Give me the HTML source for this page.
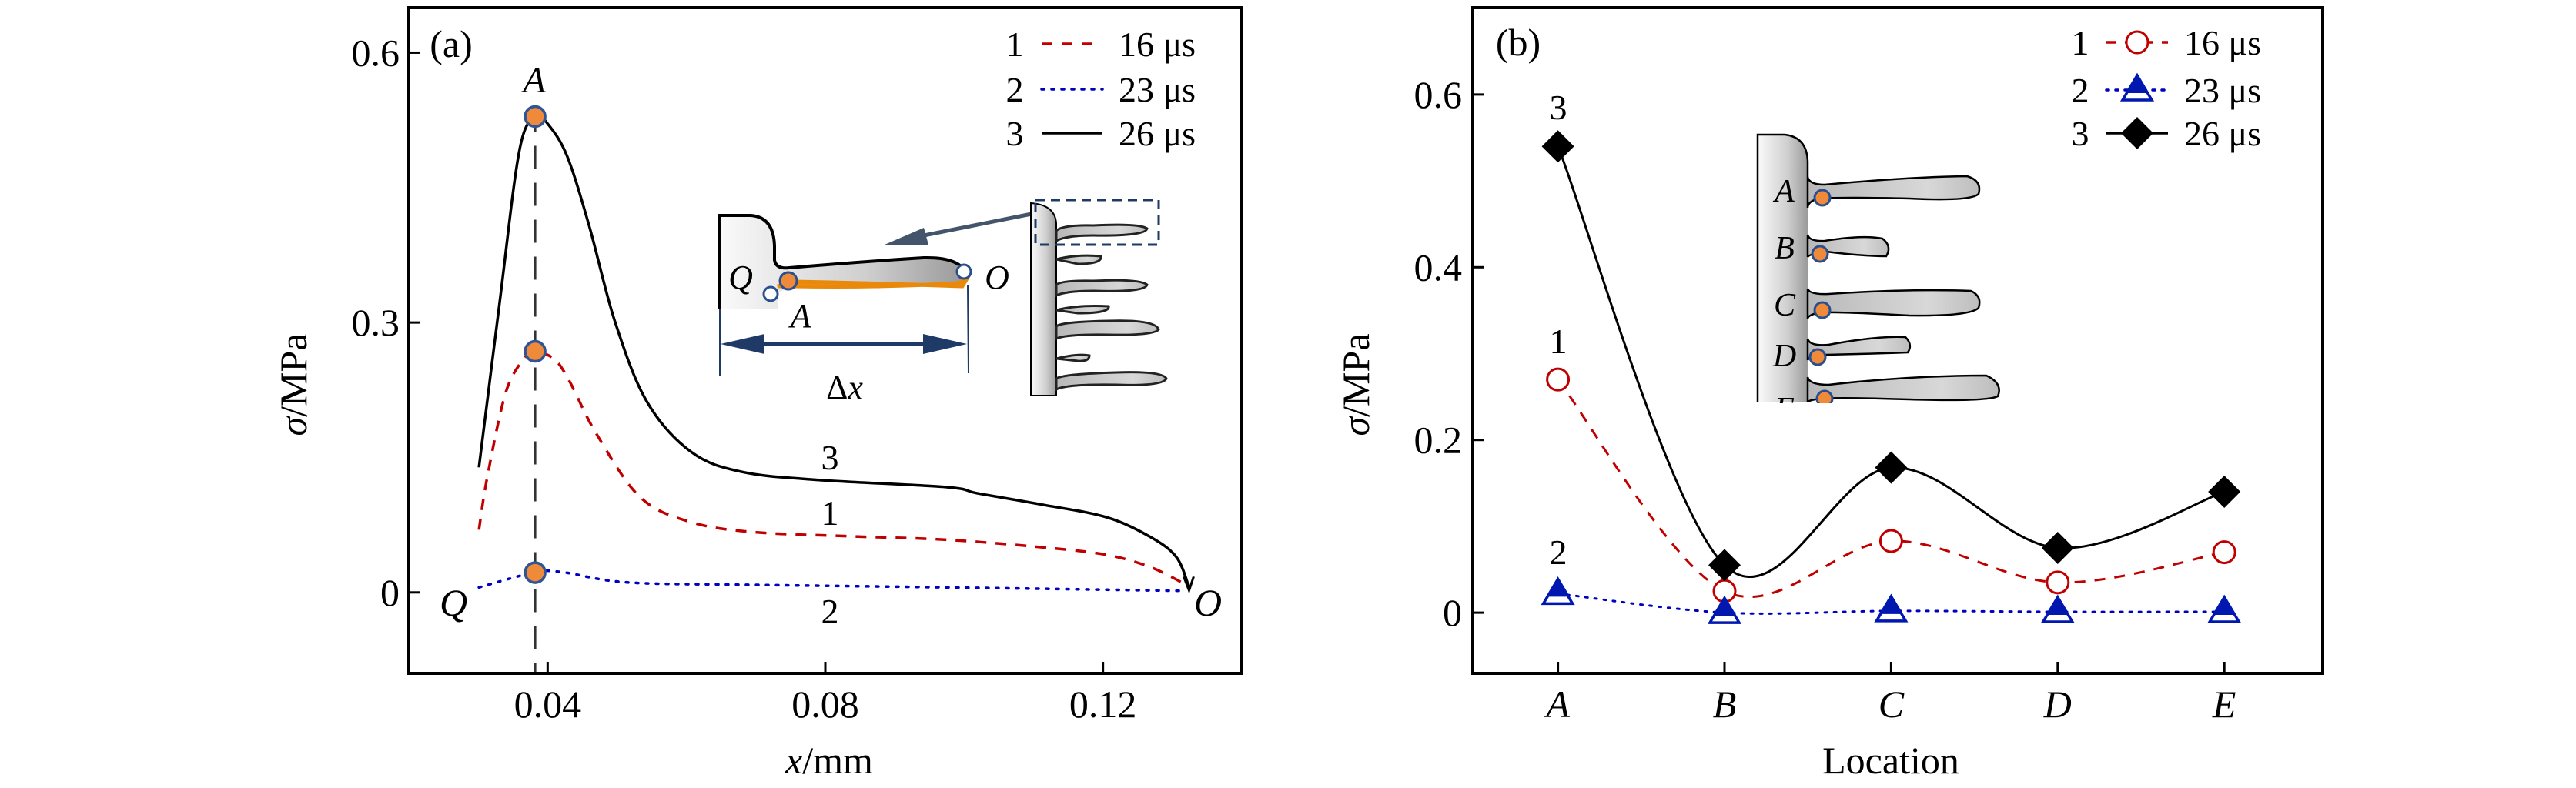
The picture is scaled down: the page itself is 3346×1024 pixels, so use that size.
<!DOCTYPE html>
<html><head><meta charset="utf-8"><style>
html,body{margin:0;padding:0;background:#fff;}
svg{display:block;font-family:"Liberation Serif",serif;}
</style></head><body>
<svg id="s" width="3346" height="1024" viewBox="0 0 3346 1024" xmlns="http://www.w3.org/2000/svg">
<defs>
<linearGradient id="gg" x1="0" x2="1" y1="0" y2="0"><stop offset="0" stop-color="#fafafa"/><stop offset="0.6" stop-color="#cfcfcf"/><stop offset="1" stop-color="#9a9a9a"/></linearGradient>
<linearGradient id="gf" x1="0" x2="1" y1="0" y2="0"><stop offset="0" stop-color="#b8b8b8"/><stop offset="0.7" stop-color="#d8d8d8"/><stop offset="1" stop-color="#bdbdbd"/></linearGradient>
</defs>
<g id="pa"></g>
<g id="pb"></g>
<g id="insetA">
  <path d="M934,401 L934,280 L975,280 Q1005,282 1006,320 L1006,338 Q1008,350 1025,348 Q1120,340 1200,335 Q1240,334 1252,350 L1250,370 Q1150,376 1040,370 L1010,380 L1010,401 Z" fill="url(#gg)" stroke="none"/>
  <path d="M934,401 L934,280 L975,280 Q1005,282 1006,320 L1006,338 Q1008,350 1025,348 Q1120,340 1200,335 Q1240,334 1252,350" fill="none" stroke="#000" stroke-width="4"/>
  <path d="M1010,372 L1030,366 Q1140,368 1250,372 L1256,362 L1245,368 Q1140,374 1030,372 Z" fill="#f0900c" stroke="#e8890c" stroke-width="5"/>
  <circle cx="1001" cy="382" r="9" fill="#fff" stroke="#2a4f8f" stroke-width="3"/>
  <circle cx="1024" cy="365" r="11" fill="#ee8a3a" stroke="#2a4f8f" stroke-width="3"/>
  <circle cx="1252" cy="353" r="9" fill="#fff" stroke="#2a4f8f" stroke-width="3"/>
  <text x="962" y="375" font-size="44" font-style="italic" text-anchor="middle">Q</text>
  <text x="1295" y="375" font-size="44" font-style="italic" text-anchor="middle">O</text>
  <text x="1040" y="425" font-size="44" font-style="italic" text-anchor="middle">A</text>
  <line x1="935" y1="401" x2="935" y2="488" stroke="#1f3a66" stroke-width="2"/>
  <line x1="1257" y1="370" x2="1258" y2="485" stroke="#1f3a66" stroke-width="2"/>
  <line x1="960" y1="447" x2="1232" y2="447" stroke="#1f3a66" stroke-width="5"/>
  <polygon points="936,447 993,434 993,460" fill="#1f3a66"/>
  <polygon points="1256,447 1199,434 1199,460" fill="#1f3a66"/>
  <text x="1097" y="518" font-size="44" text-anchor="middle">Δ<tspan font-style="italic">x</tspan></text>
  <line x1="1340" y1="278" x2="1185" y2="309" stroke="#44546a" stroke-width="5"/>
  <polygon points="1149,318 1200,296 1206,318" fill="#44546a"/>
  <path d="M1339,514 L1339,264 Q1370,266 1372,290 L1372,514 Z" fill="url(#gg)" stroke="#000" stroke-width="2"/>
  <g fill="url(#gf)" stroke="#222" stroke-width="3">
    <path d="M1372,300 Q1380,292 1420,293 Q1480,290 1490,297 Q1488,307 1420,306 Q1385,306 1372,313 Z"/>
    <path d="M1372,337 Q1400,330 1430,333 Q1432,343 1400,343 Z"/>
    <path d="M1372,370 Q1380,364 1420,365 Q1480,362 1490,370 Q1488,380 1420,378 Q1385,378 1372,384 Z"/>
    <path d="M1372,403 Q1400,396 1440,398 Q1442,407 1400,407 Z"/>
    <path d="M1372,424 Q1380,418 1440,417 Q1500,415 1505,428 Q1500,436 1440,435 Q1385,434 1372,440 Z"/>
    <path d="M1372,466 Q1400,459 1415,462 Q1415,470 1400,469 Z"/>
    <path d="M1372,492 Q1380,486 1450,484 Q1510,482 1515,492 Q1510,502 1450,500 Q1385,499 1372,506 Z"/>
  </g>
  <rect x="1345" y="260" width="160" height="58" fill="none" stroke="#1f3a66" stroke-width="3" stroke-dasharray="12,8"/>
</g>
<g id="insetB">
  <path d="M2283,523 L2283,175 L2318,175 Q2347,178 2348,210 L2348,523 Z" fill="url(#gg)"/>
  <path d="M2283,523 L2283,175 L2318,175 Q2347,178 2348,210 L2348,230" fill="none" stroke="#000" stroke-width="2.5"/>
  <g fill="url(#gf)" stroke="#000" stroke-width="2.5">
    <path d="M2348,230 Q2350,240 2370,240 Q2480,230 2555,229 Q2575,235 2570,252 Q2560,262 2480,258 Q2390,256 2362,258 Q2348,262 2348,270 Z"/>
    <path d="M2348,305 Q2350,314 2370,313 Q2420,305 2445,310 Q2458,320 2450,333 Q2420,333 2372,327 Q2350,330 2348,334 Z"/>
    <path d="M2348,375 Q2350,383 2375,382 Q2480,375 2560,378 Q2575,385 2570,400 Q2560,411 2480,410 Q2390,405 2362,406 Q2348,410 2348,414 Z"/>
    <path d="M2348,440 Q2350,450 2375,448 Q2440,436 2475,438 Q2485,448 2478,458 Q2420,460 2372,461 Q2350,462 2348,468 Z"/>
    <path d="M2348,490 Q2350,500 2375,500 Q2480,488 2580,488 Q2602,498 2595,515 Q2580,522 2480,519 Q2390,516 2365,518 Q2348,520 2348,523 Z"/>
  </g>
  <g fill="#ee8a3a" stroke="#2a4f8f" stroke-width="3">
    <circle cx="2367" cy="257" r="10"/><circle cx="2364" cy="330" r="10"/><circle cx="2367" cy="403" r="10"/><circle cx="2361" cy="464" r="10"/><circle cx="2370" cy="518" r="10"/>
  </g>
  <g font-size="42" font-style="italic" text-anchor="middle">
    <text x="2318" y="262">A</text><text x="2318" y="336">B</text><text x="2318" y="410">C</text><text x="2318" y="476">D</text><text x="2318" y="545">E</text>
  </g>
  <rect x="2270" y="524" width="120" height="40" fill="#fff"/>
</g>
</svg>
<script>
// ---------- Panel (a) data ----------
const a3x = [0.0301,0.0331,0.0359,0.0382,0.0400,0.0428,0.0460,0.0497,0.0543,0.0607,0.0680,0.0791,0.0975,0.1020,0.1113,0.1205,0.1269,0.1306,0.1324];
const a3y = [0.139,0.323,0.490,0.529,0.521,0.485,0.407,0.301,0.212,0.156,0.134,0.125,0.117,0.110,0.0975,0.0836,0.0613,0.039,0.0056];
const a1x = [0.0301,0.0313,0.0340,0.0368,0.0382,0.0410,0.0432,0.0469,0.0533,0.0607,0.0699,0.0837,0.0975,0.1113,0.1205,0.1269,0.1320];
const a1y = [0.0696,0.128,0.223,0.262,0.268,0.259,0.234,0.178,0.106,0.078,0.0669,0.0624,0.0585,0.0501,0.0418,0.0279,0.0084];
const a2x = [0.0301,0.0382,0.0423,0.0515,0.0699,0.0975,0.1320];
const a2y = [0.0056,0.0223,0.0223,0.0111,0.0084,0.0056,0.0017];
const aMarkX = [0.0382,0.0382,0.0382];
const aMarkY = [0.529,0.268,0.022];
const aXTicks = [0.04,0.08,0.12];
const aXTickLabels = ["0.04","0.08","0.12"];
const aYTicks = [0,0.3,0.6];
const aYTickLabels = ["0","0.3","0.6"];
// ---------- Panel (b) data ----------
const bCats = ["A","B","C","D","E"];
const b1 = [0.27,0.025,0.083,0.035,0.07];
const b2 = [0.022,0.0,0.002,0.001,0.001];
const b3 = [0.54,0.055,0.168,0.075,0.14];
const bYTicks = [0,0.2,0.4,0.6];
const bYTickLabels = ["0","0.2","0.4","0.6"];

const NS="http://www.w3.org/2000/svg";
function mk(parent,tag,attrs,text){const e=document.createElementNS(NS,tag);for(const k in attrs)e.setAttribute(k,attrs[k]);if(text!==undefined)e.textContent=text;parent.appendChild(e);return e;}
function smooth(pts){let d="M"+pts[0][0].toFixed(1)+","+pts[0][1].toFixed(1);for(let i=0;i<pts.length-1;i++){const p0=pts[i-1]||pts[i],p1=pts[i],p2=pts[i+1],p3=pts[i+2]||p2;const c1=[p1[0]+(p2[0]-p0[0])/6,p1[1]+(p2[1]-p0[1])/6],c2=[p2[0]-(p3[0]-p1[0])/6,p2[1]-(p3[1]-p1[1])/6];d+=" C"+c1[0].toFixed(1)+","+c1[1].toFixed(1)+" "+c2[0].toFixed(1)+","+c2[1].toFixed(1)+" "+p2[0].toFixed(1)+","+p2[1].toFixed(1);}return d;}

// ---- Panel A ----
const A={l:531,r:1613,t:10,b:875,x0:0.02,x1:0.14,y0:-0.09,y1:0.65};
const ax=v=>A.l+(v-A.x0)/(A.x1-A.x0)*(A.r-A.l);
const ay=v=>A.b-(v-A.y0)/(A.y1-A.y0)*(A.b-A.t);
const pa=document.getElementById('pa');
let e;
e=mk(pa,'line',{x1:ax(aMarkX[0]),x2:ax(aMarkX[0]),y1:ay(aMarkY[0])-10,y2:A.b,stroke:'#333','stroke-width':3,'stroke-dasharray':'30,18'});


aXTicks.forEach((t,i)=>{
  e=mk(pa,'line',{x1:ax(t),x2:ax(t),y1:A.b,y2:A.b-15,stroke:'#000','stroke-width':3});
  
  
  e=mk(pa,'text',{x:ax(t),y:A.b+57,'font-size':50,'text-anchor':'middle'},aXTickLabels[i]);
  
  
});
aYTicks.forEach((t,i)=>{
  e=mk(pa,'line',{x1:A.l,x2:A.l+15,y1:ay(t),y2:ay(t),stroke:'#000','stroke-width':3});
  
  
  e=mk(pa,'text',{x:A.l-12,y:ay(t)+17,'font-size':50,'text-anchor':'end'},aYTickLabels[i]);
  
  
});
function series(g,xs,ys,fx,fy,attrs,name){const pts=xs.map((x,i)=>[fx(x),fy(ys[i])]);const p=mk(g,'path',Object.assign({d:smooth(pts),fill:'none'},attrs));return p;}
series(pa,a3x,a3y,ax,ay,{stroke:'#000','stroke-width':3.5},'curve-26us');
series(pa,a1x,a1y,ax,ay,{stroke:'#c00000','stroke-width':3.5,'stroke-dasharray':'14,12'},'curve-16us');
series(pa,a2x,a2y,ax,ay,{stroke:'#0000c0','stroke-width':3.5,'stroke-dasharray':'3,10','stroke-linecap':'round'},'curve-23us');
e=mk(pa,'path',{d:`M${ax(a3x[a3x.length-1])-7},${ay(a3y[a3y.length-1])-14} L${ax(a3x[a3x.length-1])},${ay(a3y[a3y.length-1])+4} L${ax(a3x[a3x.length-1])+6},${ay(a3y[a3y.length-1])-14}`,fill:'none',stroke:'#000','stroke-width':3});


aMarkX.forEach((x,i)=>{
  e=mk(pa,'circle',{cx:ax(x),cy:ay(aMarkY[i]),r:13,fill:'#ee8a3a',stroke:'#2f5597','stroke-width':3.5});
  
  
});
e=mk(pa,'rect',{x:A.l,y:A.t,width:A.r-A.l,height:A.b-A.t,fill:'none',stroke:'#000','stroke-width':4});


[["(a)",586,74,'normal',50,'panel-label-a'],["A",694,120,'italic',48,'label-A'],["3",1078,610,'normal',46,'curve-label-3'],["1",1078,682,'normal',46,'curve-label-1'],["2",1078,810,'normal',46,'curve-label-2'],["Q",589,800,'italic',50,'label-Q'],["O",1569,800,'italic',50,'label-O']].forEach(q=>{
  e=mk(pa,'text',{x:q[1],y:q[2],'font-style':q[3],'font-size':q[4],'text-anchor':'middle'},q[0]);
  
  
});
e=mk(pa,'text',{x:1077,y:1005,'font-size':50,'text-anchor':'middle'});e.innerHTML='<tspan font-style="italic">x</tspan>/mm';


e=mk(pa,'text',{x:0,y:0,'font-size':50,'text-anchor':'middle',transform:'translate(398,500) rotate(-90)'});e.innerHTML='<tspan font-style="italic">σ</tspan>/MPa';


// legend a
const legA=[["1","16 μs",{stroke:'#c00000','stroke-dasharray':'14,12'}],["2","23 μs",{stroke:'#0000c0','stroke-dasharray':'3,10','stroke-linecap':'round'}],["3","26 μs",{stroke:'#000'}]];
const legAY=[57,116,173];
legA.forEach((L,i)=>{
  const g=mk(pa,'g',{});
  
  
  mk(g,'text',{x:1318,y:legAY[i]+16,'font-size':46,'text-anchor':'middle'},L[0]);
  mk(g,'line',Object.assign({x1:1353,x2:1432,y1:legAY[i],y2:legAY[i],'stroke-width':3.5},L[2]));
  mk(g,'text',{x:1453,y:legAY[i]+16,'font-size':46},L[1]);
});

// ---- Panel B ----
const B={l:1913,r:3017,t:10,b:875,y0:-0.0703,y1:0.7006};
const bx=i=>2023.6+i*216.4;
const by=v=>B.b-(v-B.y0)/(B.y1-B.y0)*(B.b-B.t);
const pb=document.getElementById('pb');
bCats.forEach((c,i)=>{
  e=mk(pb,'line',{x1:bx(i),x2:bx(i),y1:B.b,y2:B.b-15,stroke:'#000','stroke-width':3});
  
  
  e=mk(pb,'text',{x:bx(i),y:B.b+57,'font-size':50,'font-style':'italic','text-anchor':'middle'},c);
  
  
});
bYTicks.forEach((t,i)=>{
  e=mk(pb,'line',{x1:B.l,x2:B.l+15,y1:by(t),y2:by(t),stroke:'#000','stroke-width':3});
  
  
  e=mk(pb,'text',{x:B.l-14,y:by(t)+17,'font-size':50,'text-anchor':'end'},bYTickLabels[i]);
  
  
});
const idx=[0,1,2,3,4];
series(pb,idx,b3,bx,by,{stroke:'#000','stroke-width':3},'line-26us');
series(pb,idx,b1,bx,by,{stroke:'#c00000','stroke-width':3,'stroke-dasharray':'14,12'},'line-16us');
series(pb,idx,b2,bx,by,{stroke:'#0000c0','stroke-width':3,'stroke-dasharray':'3,9','stroke-linecap':'round'},'line-23us');
function circ(g,x,y){return mk(g,'circle',{cx:x,cy:y,r:14,fill:'#fff',stroke:'#c00000','stroke-width':3});}
function tri(g,x,y){const gg=mk(g,'g',{});mk(gg,'polygon',{points:`${x},${y-19} ${x-19},${y+13} ${x+19},${y+13}`,fill:'#fff',stroke:'#0018b0','stroke-width':3.5});mk(gg,'polygon',{points:`${x},${y-19} ${x-14},${y+4} ${x+14},${y+4}`,fill:'#0018b0'});return gg;}
function dia(g,x,y){return mk(g,'polygon',{points:`${x},${y-21} ${x+21},${y} ${x},${y+21} ${x-21},${y}`,fill:'#000'});}
idx.forEach(i=>{
  e=circ(pb,bx(i),by(b1[i]));
  
  
  e=tri(pb,bx(i),by(b2[i]));
  
  
  e=dia(pb,bx(i),by(b3[i]));
  
  
});
e=mk(pb,'rect',{x:B.l,y:B.t,width:B.r-B.l,height:B.b-B.t,fill:'none',stroke:'#000','stroke-width':4});


[["(b)",1972,72,'panel-label-b'],["3",2024,155,'series-label-3'],["1",2024,459,'series-label-1'],["2",2024,733,'series-label-2']].forEach(q=>{
  e=mk(pb,'text',{x:q[1],y:q[2],'font-size':q[0]==="(b)"?50:46,'text-anchor':'middle'},q[0]);
  
  
});
e=mk(pb,'text',{x:2456,y:1005,'font-size':50,'text-anchor':'middle'},'Location');


e=mk(pb,'text',{x:0,y:0,'font-size':50,'text-anchor':'middle',transform:'translate(1778,500) rotate(-90)'});e.innerHTML='<tspan font-style="italic">σ</tspan>/MPa';


const legBY=[55,117,173];
const legB=[["1","16 μs",{stroke:'#c00000','stroke-dasharray':'12,12'},circ],["2","23 μs",{stroke:'#0000c0','stroke-dasharray':'3,9','stroke-linecap':'round'},tri],["3","26 μs",{stroke:'#000'},dia]];
legB.forEach((L,i)=>{
  const g=mk(pb,'g',{});
  
  
  mk(g,'text',{x:2702,y:legBY[i]+16,'font-size':46,'text-anchor':'middle'},L[0]);
  mk(g,'line',Object.assign({x1:2736,x2:2816,y1:legBY[i],y2:legBY[i],'stroke-width':3.5},L[2]));
  L[3](g,2776,legBY[i]);
  mk(g,'text',{x:2837,y:legBY[i]+16,'font-size':46},L[1]);
});
</script>
</body></html>
